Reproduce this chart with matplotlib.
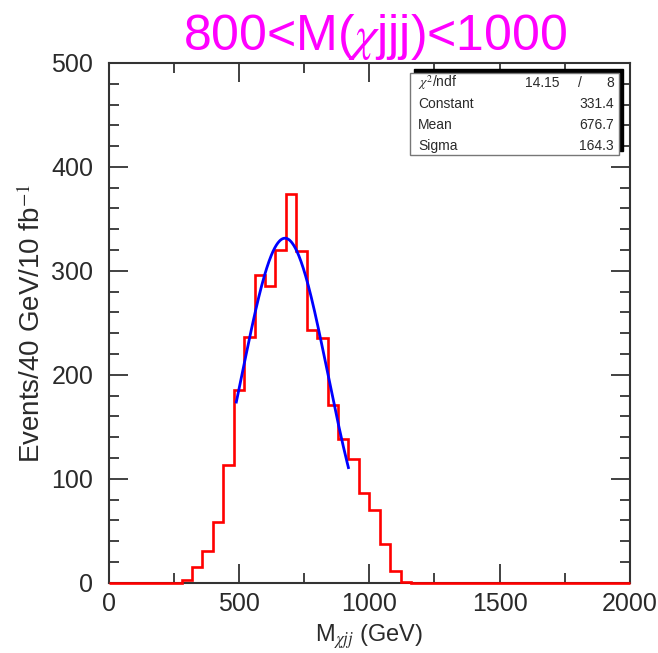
import numpy as np
import matplotlib.pyplot as plt
from matplotlib.patches import Rectangle
from matplotlib.ticker import MultipleLocator

plt.rcParams['font.family'] = ['Liberation Sans', 'DejaVu Sans']
plt.rcParams['mathtext.fontset'] = 'stix'

# histogram: 40 GeV bins from 0 to 2000
bin_edges = np.arange(0, 2001, 40)
counts = [0, 0, 0, 0, 0, 0, 0, 3, 15, 30,
          58, 113, 185, 236, 296, 285, 320, 374, 319, 243,
          235, 171, 138, 119, 86, 70, 37, 11, 1, 0,
          0, 0, 0, 0, 0, 0, 0, 0, 0, 0,
          0, 0, 0, 0, 0, 0, 0, 0, 0, 0]

# gaussian fit results
fit_const = 331.4
fit_mean = 676.7
fit_sigma = 164.3
fit_range = (490, 920)
chi2, ndf = 14.15, 8
stat_rows = [("Constant", "331.4"), ("Mean", "676.7"), ("Sigma", "164.3")]

text_col = '#2a2a2a'

fig = plt.figure(figsize=(6.58, 6.53), dpi=100)
ax = fig.add_axes([0.165, 0.1077, 0.7924, 0.7959])

ax.stairs(counts, bin_edges, color='#ff0000', linewidth=1.9,
          zorder=4, clip_on=False)

xf = np.linspace(fit_range[0], fit_range[1], 200)
yf = fit_const * np.exp(-0.5 * ((xf - fit_mean) / fit_sigma) ** 2)
ax.plot(xf, yf, color='#0000ff', linewidth=2.0, zorder=4)

ax.set_xlim(0, 2000)
ax.set_ylim(0, 500)
ax.xaxis.set_major_locator(MultipleLocator(500))
ax.xaxis.set_minor_locator(MultipleLocator(250))
ax.yaxis.set_major_locator(MultipleLocator(100))
ax.yaxis.set_minor_locator(MultipleLocator(20))
ax.tick_params(which='both', direction='in', top=True, right=True,
               colors='#333333', labelcolor=text_col, labelsize=18)
ax.tick_params(which='major', length=14, width=1.3)
ax.tick_params(which='minor', length=7, width=1.3)
ax.tick_params(axis='x', which='major', pad=7)
ax.tick_params(axis='y', which='major', pad=11)
for s in ax.spines.values():
    s.set_color('#333333')
    s.set_linewidth(1.5)

ax.set_xlabel(r'M$_{\chi jj}$ (GeV)', fontsize=17, color=text_col, labelpad=4)
ax.set_ylabel(r'Events/40 GeV/10 fb$^{-1}$', fontsize=20, color=text_col,
              labelpad=4)

# stats box with drop shadow
bx0, by0, bx1, by1 = 0.578, 0.823, 0.979, 0.981
ax.add_patch(Rectangle((bx0 + 0.008, by0 + 0.008), bx1 - bx0, by1 - by0,
                       transform=ax.transAxes, facecolor='black',
                       edgecolor='black', zorder=5))
ax.add_patch(Rectangle((bx0, by0), bx1 - bx0, by1 - by0,
                       transform=ax.transAxes, facecolor='white',
                       edgecolor='#777777', linewidth=1.0, zorder=6))
row_y = [0.9615, 0.921, 0.881, 0.840]
fs_box = 10
ax.text(0.594, row_y[0], r'$\chi^2$/ndf', transform=ax.transAxes,
        fontsize=fs_box, color=text_col, va='center', zorder=7)
ax.text(0.865, row_y[0], f'{chi2:.2f}', transform=ax.transAxes, ha='right',
        fontsize=fs_box, color=text_col, va='center', zorder=7)
ax.text(0.905, row_y[0], '/', transform=ax.transAxes, ha='center',
        fontsize=fs_box, color=text_col, va='center', zorder=7)
ax.text(0.969, row_y[0], f'{ndf}', transform=ax.transAxes, ha='right',
        fontsize=fs_box, color=text_col, va='center', zorder=7)
for (name, val), y in zip(stat_rows, row_y[1:]):
    ax.text(0.594, y, name, transform=ax.transAxes, fontsize=fs_box,
            color=text_col, va='center', zorder=7)
    ax.text(0.969, y, val, transform=ax.transAxes, ha='right', fontsize=fs_box,
            color=text_col, va='center', zorder=7)

fig.text(0.57, 0.923, r'800<M($\chi$jjj)<1000', color='#ff00ff',
         fontsize=36, ha='center', va='baseline')

fig.savefig('out.png', dpi=100)
